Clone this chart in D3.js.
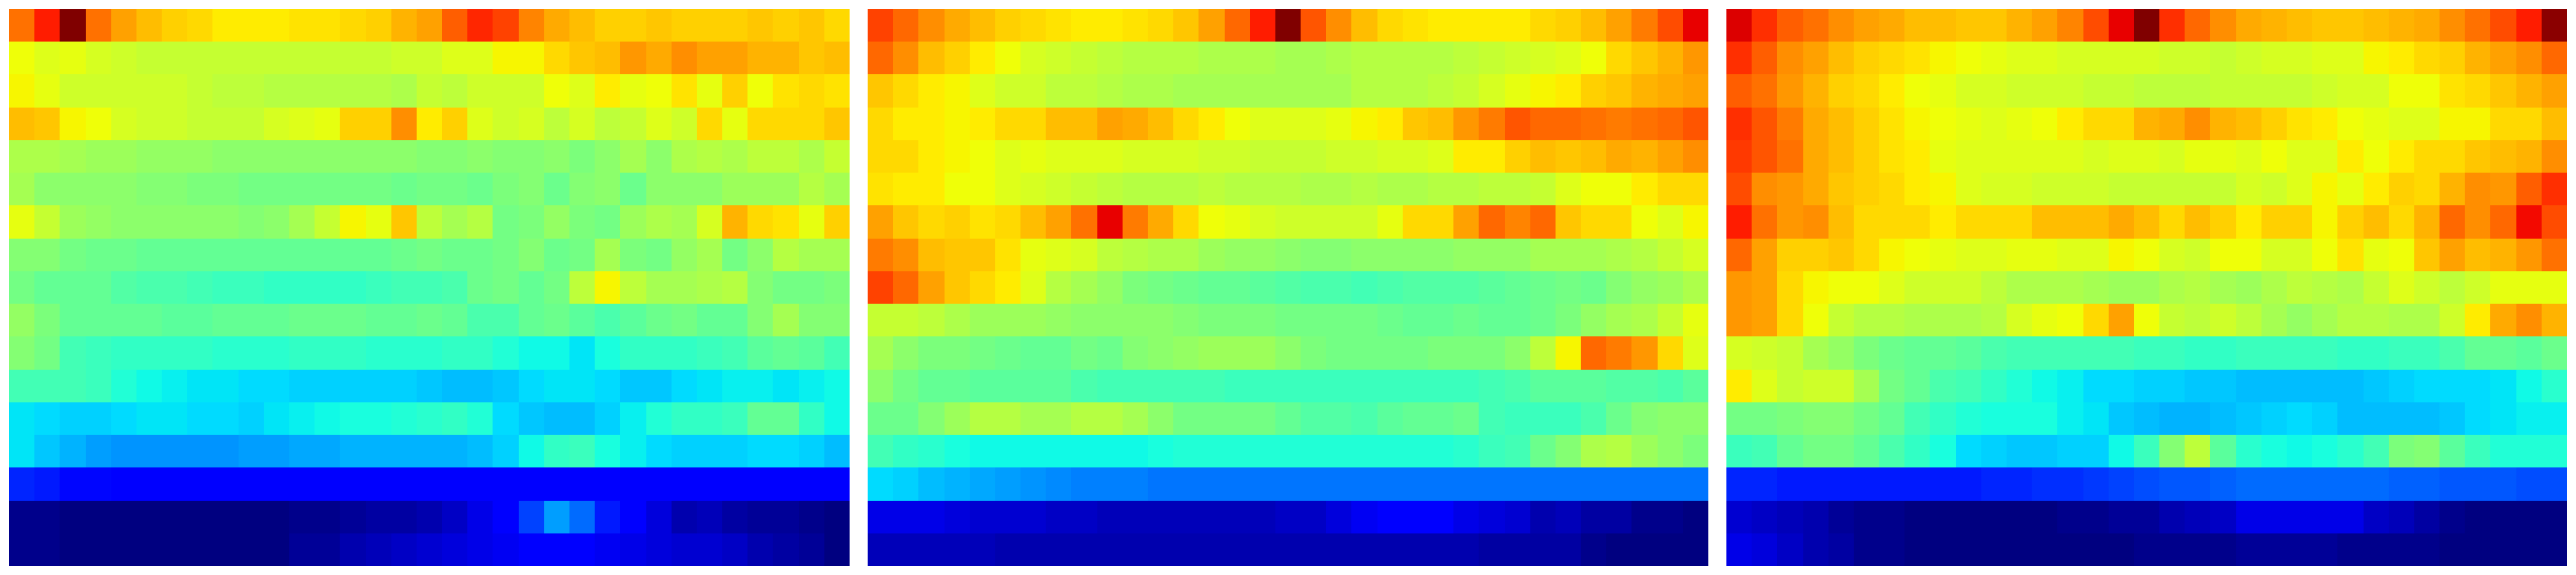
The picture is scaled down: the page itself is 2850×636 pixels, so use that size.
<!DOCTYPE html>
<html><head><meta charset="utf-8">
<script src="https://cdn.jsdelivr.net/npm/d3@7"></script>
<style>html,body{margin:0;padding:0;background:#fff}svg{display:block}</style>
</head><body><svg id="c"></svg>
<script>
const panelA = [
[79,88,100,79,74,71,69,68,66,66,66,67,67,68,69,72,74,81,87,84,77,73,71,69,69,70,69,69,69,70,69,70,68],
[64,62,63,61,60,59,59,59,59,59,59,59,59,59,59,60,60,62,62,65,65,68,70,71,75,73,76,74,74,72,72,70,71],
[65,63,60,60,60,60,60,59,58,58,57,57,57,57,57,56,59,58,60,60,60,64,62,66,63,64,67,63,69,64,67,68,67],
[71,70,65,64,61,60,60,59,59,59,61,62,63,69,69,76,66,69,62,60,61,58,61,58,59,62,60,68,63,68,68,68,70],
[56,56,55,54,54,53,53,53,52,52,52,52,52,52,52,52,51,51,52,51,51,52,50,52,55,52,56,57,56,58,58,56,59],
[55,52,52,52,52,51,51,50,50,49,49,49,49,49,49,48,49,49,48,50,51,48,51,52,48,52,52,52,54,54,54,57,55],
[63,59,54,53,52,52,52,52,52,51,52,55,59,65,63,70,58,55,57,49,50,53,50,49,54,56,55,61,72,68,67,63,69],
[51,51,49,48,48,47,47,47,47,47,47,47,47,47,47,48,49,48,48,49,51,48,49,55,50,49,53,55,49,52,57,55,55],
[49,47,47,47,45,44,44,43,42,42,41,41,41,41,42,43,43,44,48,49,47,49,58,65,58,55,55,56,57,51,49,49,50],
[53,50,47,47,47,47,46,46,47,47,47,48,48,48,47,47,48,47,44,44,47,48,46,44,46,48,49,47,47,51,55,51,51],
[51,49,43,42,41,41,41,41,40,40,40,41,41,41,40,40,40,41,41,39,37,37,35,38,41,41,41,42,43,46,47,46,43],
[43,43,43,42,39,37,36,35,35,34,34,33,33,33,33,33,32,31,31,32,34,35,35,34,32,32,34,35,36,36,35,36,37],
[35,34,33,33,34,35,35,34,34,33,35,36,37,38,38,39,40,41,39,34,32,31,31,33,36,39,41,41,42,47,47,41,37],
[35,32,30,28,27,27,27,27,27,28,28,29,29,30,30,30,30,30,31,33,37,41,42,38,36,34,33,33,33,34,34,33,31],
[16,15,13,13,12,12,12,12,12,12,12,12,12,12,12,12,12,12,12,12,12,12,12,12,12,12,12,12,12,12,12,12,12],
[1,1,0,0,0,0,0,0,0,0,0,1,1,2,3,3,4,6,9,11,19,28,23,15,11,8,4,5,3,2,2,1,0],
[1,1,0,0,0,0,0,0,0,0,0,2,2,4,5,6,7,8,9,10,11,12,12,10,9,8,7,7,6,4,3,2,0]
];
const panelB = [
[84,80,76,73,71,69,68,67,66,66,67,68,70,74,80,88,100,82,76,71,68,67,66,66,66,66,68,69,71,74,78,83,91],
[80,76,71,69,66,64,61,60,59,58,57,57,57,56,56,56,55,55,56,57,57,57,57,58,59,60,61,62,64,68,70,72,75],
[70,68,66,65,62,60,60,58,58,57,56,56,55,55,55,55,55,55,55,57,57,57,58,59,61,63,65,66,69,70,72,73,74],
[68,66,66,65,66,68,68,71,71,74,73,71,68,66,64,62,62,62,63,65,66,70,71,75,78,82,80,80,79,78,79,80,82],
[68,68,66,65,64,62,63,62,62,62,61,61,61,60,60,59,59,59,60,60,61,61,62,66,66,69,71,70,71,73,72,74,76],
[67,66,66,64,64,62,61,60,59,58,57,57,57,58,57,57,57,56,56,57,56,56,57,57,58,58,59,62,64,64,66,68,68],
[74,70,68,69,67,68,71,74,79,91,78,73,68,64,63,61,60,60,60,60,63,68,68,74,80,77,80,70,68,68,64,62,65],
[78,76,71,70,70,67,63,62,61,58,57,56,56,54,53,53,52,51,51,52,52,52,52,53,53,53,55,55,55,56,57,59,61],
[84,80,74,70,68,66,62,57,55,53,50,49,48,47,47,46,45,44,44,43,44,45,45,45,46,47,48,49,48,51,53,54,56],
[59,59,58,56,54,54,54,53,52,52,52,52,51,50,50,50,49,49,49,49,48,47,47,48,47,47,48,50,53,55,56,59,63],
[55,52,50,50,49,48,47,47,49,48,51,52,53,54,54,54,52,50,49,49,49,49,50,50,50,52,58,65,80,78,75,68,62],
[52,49,47,47,46,46,46,46,44,43,43,43,43,43,42,42,42,42,42,42,42,42,42,42,43,44,46,46,46,45,45,44,46],
[48,48,51,54,57,57,55,55,57,57,55,52,49,49,49,49,47,45,45,44,46,47,47,48,43,42,42,42,44,48,51,52,52],
[43,41,40,38,37,37,37,37,37,37,37,38,39,39,39,39,39,39,39,39,39,39,39,40,42,43,48,51,56,57,54,52,50],
[34,33,31,30,29,28,27,26,25,25,25,24,24,24,24,24,24,24,24,24,24,24,24,24,24,24,24,24,24,24,24,24,24],
[9,9,9,8,7,7,7,6,6,5,5,5,5,5,5,5,6,6,8,10,11,11,11,9,8,7,4,5,3,3,1,1,0],
[5,5,5,5,5,4,4,4,4,4,4,4,4,4,4,4,4,4,4,4,4,4,4,4,3,3,3,3,1,0,0,0,0]
];
const panelC = [
[92,86,81,79,76,74,73,71,71,70,70,72,74,77,83,91,100,86,80,76,73,72,71,70,70,71,72,73,76,79,83,88,99],
[86,81,76,74,71,69,68,67,65,64,63,62,62,61,61,61,61,60,60,59,60,61,61,62,62,65,66,68,69,72,74,76,80],
[81,79,75,72,69,68,66,64,63,61,61,60,60,60,59,59,58,58,58,59,59,59,59,60,61,61,64,64,67,68,70,72,74],
[86,82,78,73,71,69,67,65,64,63,62,63,64,66,68,68,72,73,76,72,71,69,67,66,64,63,62,62,65,65,68,68,71],
[85,82,79,73,71,69,67,66,63,62,62,62,62,62,61,62,62,61,63,63,62,64,62,62,66,64,66,68,68,70,71,72,76],
[83,76,75,73,70,69,68,66,65,62,61,61,60,60,60,59,59,59,59,59,61,60,62,65,63,66,69,68,72,76,75,81,86],
[88,79,75,76,71,68,68,68,66,68,68,68,71,71,71,73,71,68,71,69,66,69,69,65,69,71,68,72,80,76,80,90,83],
[80,74,69,69,70,68,65,64,63,62,62,63,63,62,62,65,64,61,60,64,64,61,61,64,67,63,64,70,74,71,72,75,79],
[75,74,68,65,64,64,62,60,60,60,58,56,56,56,55,54,54,56,57,55,54,56,58,57,56,59,62,60,58,60,63,63,63],
[75,74,68,64,59,57,57,56,56,56,57,61,63,64,68,74,64,59,58,60,58,55,53,55,57,57,56,56,60,66,73,76,72],
[61,60,59,55,53,50,48,47,47,46,44,43,43,43,43,43,42,42,41,41,42,42,42,42,41,41,42,42,44,47,47,46,48],
[66,62,59,60,60,55,49,47,44,43,41,39,37,36,34,34,33,33,32,32,31,31,31,31,31,32,33,34,34,34,35,37,40],
[49,49,50,51,51,49,47,43,41,39,38,38,38,36,35,32,31,30,30,31,32,33,34,33,31,31,31,31,32,34,35,36,36],
[42,43,47,49,49,47,44,41,38,34,33,32,32,33,33,37,42,51,58,46,40,38,37,38,40,43,50,51,46,42,39,39,39],
[16,16,15,15,15,15,15,15,15,15,16,16,17,17,18,19,20,21,21,22,23,23,23,23,23,23,22,22,21,21,21,20,20],
[7,6,5,4,2,1,1,0,0,0,0,0,0,1,1,2,2,4,5,6,9,9,9,9,9,6,5,3,1,0,0,0,0],
[9,8,6,4,3,1,1,0,0,0,0,0,0,0,0,0,1,1,1,1,2,2,2,2,1,1,1,1,0,0,0,0,0]
];
const panels = [panelA, panelB, panelC];

const W = 2850, H = 636;
const red = d3.scaleLinear().domain([0,.35,.66,.89,1]).range([0,0,1,1,.5]);
const green = d3.scaleLinear().domain([0,.125,.375,.64,.91,1]).range([0,0,1,1,0,0]);
const blue = d3.scaleLinear().domain([0,.11,.34,.65,1]).range([.5,1,1,0,0]);
const unit = d3.scaleLinear().domain([0,100]).range([0,1]);
const jet = v => { const t = unit(v);
  return `rgb(${Math.round(red(t)*255)},${Math.round(green(t)*255)},${Math.round(blue(t)*255)})`; };

const svg = d3.select("#c").attr("width",W).attr("height",H);
const panelX = d3.scaleBand().domain(d3.range(3)).range([10,2840]).paddingInner(20/950);
const rowY = d3.scaleBand().domain(d3.range(17)).range([10,626]);

panels.forEach((rows,p)=>{
  const x = d3.scaleBand().domain(d3.range(33)).range([panelX(p),panelX(p)+panelX.bandwidth()]);
  const cells = rows.flatMap((r,i)=>r.map((v,j)=>({i,j,v})));
  svg.append("g").selectAll("rect").data(cells).join("rect")
    .attr("x",d=>Math.round(x(d.j)))
    .attr("y",d=>Math.round(rowY(d.i)))
    .attr("width",d=>Math.round(x(d.j)+x.bandwidth())-Math.round(x(d.j)))
    .attr("height",d=>Math.round(rowY(d.i)+rowY.bandwidth())-Math.round(rowY(d.i)))
    .attr("shape-rendering","crispEdges")
    .attr("fill",d=>jet(d.v));
});
</script></body></html>
